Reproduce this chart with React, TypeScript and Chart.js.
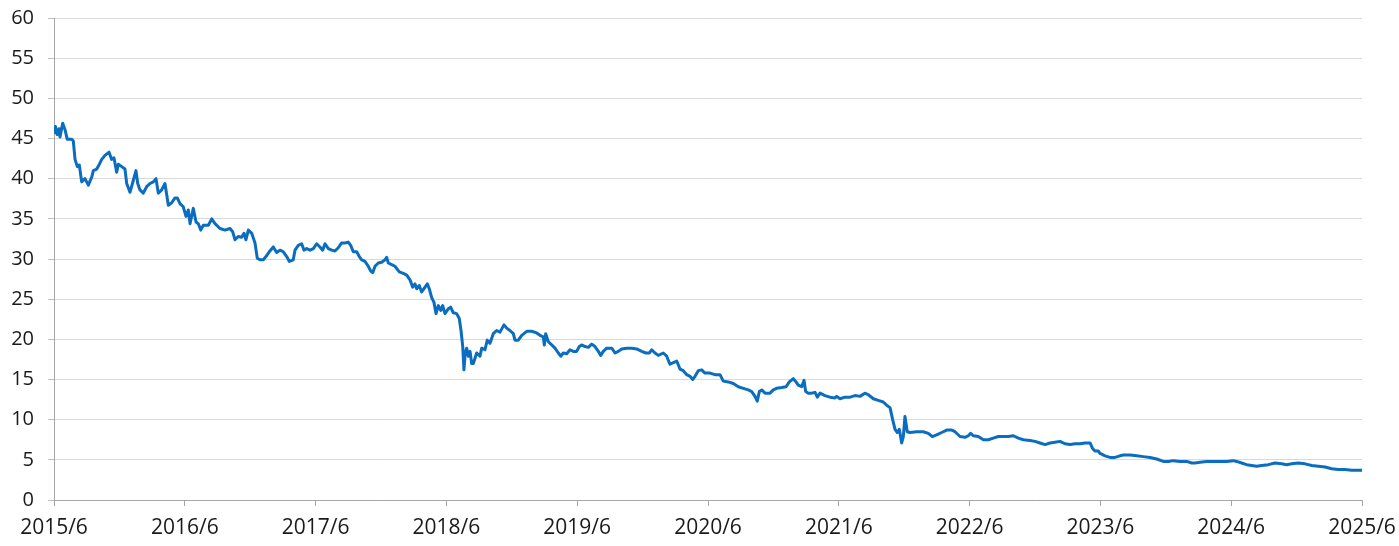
import React, { useEffect, useRef } from "react";
import { Chart, registerables } from "chart.js";

Chart.register(...registerables);

// x: months since 2015/6, y: value
const monthOffsets: number[] = [
  0, 0.14, 0.28, 0.46, 0.55, 0.8, 1.01, 1.22, 1.62, 1.77, 1.93, 2.14, 2.32, 2.54, 2.84, 3.15, 3.46, 3.61, 3.92, 4.16,
  4.38, 4.68, 5.05, 5.29, 5.5, 5.75, 5.9, 6.21, 6.51, 6.67, 6.97, 7.28, 7.52, 7.68, 7.89, 8.19, 8.5, 8.81, 9.11, 9.36,
  9.57, 9.88, 10.18, 10.49, 10.8, 11.1, 11.31, 11.56, 11.86, 12.11, 12.32, 12.48, 12.78, 13.03, 13.24, 13.46, 13.7, 14.16, 14.47, 14.77,
  15.23, 15.69, 16.15, 16.39, 16.61, 16.91, 17.22, 17.43, 17.61, 17.83, 18.14, 18.44, 18.65, 18.9, 19.2, 19.45, 19.75, 20.12, 20.43, 20.73,
  21.04, 21.35, 21.59, 21.95, 22.11, 22.41, 22.72, 22.94, 23.18, 23.49, 23.79, 24.1, 24.4, 24.65, 24.86, 25.17, 25.48, 25.78, 26.08, 26.39,
  26.7, 27.0, 27.22, 27.46, 27.77, 28.01, 28.23, 28.53, 28.83, 29.06, 29.24, 29.45, 29.75, 30.06, 30.37, 30.52, 30.67, 30.98, 31.28, 31.68,
  32.05, 32.36, 32.66, 32.91, 33.12, 33.28, 33.51, 33.73, 34.04, 34.25, 34.43, 34.65, 34.86, 35.05, 35.26, 35.48, 35.66, 35.87, 36.17, 36.39,
  36.63, 36.94, 37.18, 37.34, 37.5, 37.61, 37.73, 37.86, 38.01, 38.17, 38.32, 38.47, 38.78, 39.08, 39.24, 39.54, 39.75, 40.0, 40.3, 40.61,
  40.92, 41.28, 41.53, 41.83, 42.14, 42.29, 42.6, 42.91, 43.37, 43.83, 44.28, 44.59, 44.89, 44.98, 45.11, 45.35, 45.66, 45.96, 46.27, 46.49,
  46.72, 47.04, 47.34, 47.64, 47.95, 48.19, 48.41, 48.72, 49.02, 49.33, 49.63, 49.94, 50.16, 50.39, 50.71, 51.17, 51.47, 51.77, 52.08, 52.54,
  53.0, 53.46, 53.92, 54.31, 54.61, 54.83, 55.14, 55.44, 55.9, 56.21, 56.51, 56.82, 57.13, 57.43, 57.73, 58.05, 58.35, 58.6, 58.81, 59.11,
  59.42, 59.72, 60.18, 60.64, 61.1, 61.4, 61.86, 62.32, 62.78, 63.24, 63.7, 64.01, 64.31, 64.52, 64.71, 64.93, 65.23, 65.69, 65.99, 66.3,
  66.76, 67.16, 67.46, 67.83, 68.07, 68.28, 68.6, 68.81, 68.96, 69.2, 69.51, 69.82, 70.03, 70.28, 70.73, 71.19, 71.65, 71.81, 72.11, 72.57,
  73.03, 73.49, 73.94, 74.4, 74.71, 75.17, 75.62, 76.08, 76.39, 76.7, 76.94, 77.16, 77.37, 77.55, 77.77, 77.92, 78.07, 78.28, 78.53, 79.14,
  79.75, 80.21, 80.58, 80.98, 81.44, 81.9, 82.36, 82.66, 83.12, 83.58, 83.88, 84.1, 84.34, 84.8, 85.26, 85.72, 86.17, 86.63, 87.09, 87.55,
  88.01, 88.47, 88.93, 89.54, 90.0, 90.46, 90.92, 91.38, 91.83, 92.29, 92.75, 93.21, 93.67, 94.13, 94.59, 95.05, 95.29, 95.5, 95.81, 95.96,
  96.12, 96.42, 96.88, 97.34, 97.8, 98.1, 98.72, 99.33, 99.94, 100.55, 101.17, 101.77, 102.23, 102.69, 103.3, 103.92, 104.38, 104.68, 105.14, 105.75,
  106.36, 106.97, 107.59, 108.19, 108.5, 108.96, 109.42, 109.88, 110.34, 110.8, 111.41, 112.02, 112.63, 113.09, 113.55, 114.16, 114.77, 115.39, 115.99, 116.61,
  117.22, 117.83, 118.44, 119.05, 119.66, 120,
];

const values: number[] = [
  45.6, 46.5, 45.5, 46.2, 45.2, 46.9, 46.1, 44.9, 44.9, 44.7, 42.4, 41.5, 41.7, 39.6, 40.0, 39.2, 40.2, 41.0, 41.2, 41.8,
  42.4, 42.9, 43.3, 42.4, 42.6, 40.8, 41.8, 41.5, 41.2, 39.4, 38.3, 39.8, 41.0, 39.4, 38.6, 38.2, 39.0, 39.4, 39.6, 40.0,
  38.2, 38.6, 39.4, 36.7, 37.0, 37.6, 37.6, 36.9, 36.5, 35.3, 36.1, 34.4, 36.3, 34.6, 34.4, 33.6, 34.2, 34.2, 35.0, 34.4,
  33.8, 33.6, 33.8, 33.4, 32.4, 32.8, 32.7, 33.2, 32.4, 33.6, 33.2, 32.0, 30.1, 29.9, 29.9, 30.3, 30.9, 31.5, 30.8, 31.1,
  30.9, 30.3, 29.7, 29.9, 31.1, 31.7, 31.9, 31.1, 31.3, 31.1, 31.3, 31.9, 31.5, 31.1, 31.9, 31.3, 31.1, 31.0, 31.4, 32.0,
  32.0, 32.1, 31.7, 30.9, 30.9, 30.3, 29.9, 29.7, 29.1, 28.5, 28.3, 29.1, 29.5, 29.6, 29.9, 30.2, 29.5, 29.3, 29.1, 28.4,
  28.2, 28.0, 27.4, 26.5, 26.9, 26.3, 26.7, 25.9, 26.5, 26.9, 26.3, 25.2, 24.6, 23.2, 24.2, 23.6, 24.2, 23.2, 23.8, 24.0,
  23.3, 23.2, 22.6, 21.1, 19.1, 16.2, 18.3, 18.9, 17.9, 18.5, 17.0, 17.0, 18.3, 17.9, 18.9, 18.7, 19.9, 19.5, 20.7, 21.1,
  20.9, 21.8, 21.4, 21.1, 20.7, 19.9, 19.9, 20.5, 21.0, 21.0, 20.8, 20.5, 20.3, 19.3, 20.7, 19.7, 19.3, 18.9, 18.3, 17.9,
  18.3, 18.2, 18.7, 18.5, 18.5, 19.1, 19.3, 19.1, 19.0, 19.4, 19.1, 18.5, 18.0, 18.5, 18.9, 18.9, 18.3, 18.5, 18.8, 18.9,
  18.9, 18.8, 18.5, 18.3, 18.3, 18.7, 18.3, 18.0, 18.3, 17.9, 16.9, 17.1, 17.3, 16.3, 16.1, 15.6, 15.4, 15.0, 15.4, 16.1,
  16.2, 15.8, 15.8, 15.6, 15.6, 14.8, 14.7, 14.5, 14.1, 13.9, 13.7, 13.5, 12.9, 12.3, 13.5, 13.7, 13.3, 13.3, 13.7, 13.9,
  14.0, 14.1, 14.7, 15.1, 14.7, 14.3, 14.1, 14.9, 13.5, 13.3, 13.3, 13.4, 12.8, 13.3, 13.0, 12.8, 12.7, 12.9, 12.6, 12.8,
  12.8, 13.0, 12.9, 13.3, 13.1, 12.6, 12.4, 12.2, 11.8, 11.5, 10.0, 8.8, 8.4, 8.8, 7.1, 7.9, 10.4, 8.5, 8.4, 8.5,
  8.5, 8.3, 7.9, 8.1, 8.4, 8.7, 8.7, 8.5, 7.9, 7.8, 8.0, 8.3, 8.0, 7.9, 7.5, 7.5, 7.7, 7.9, 7.9, 7.9,
  8.0, 7.7, 7.5, 7.4, 7.3, 7.1, 6.9, 7.1, 7.2, 7.3, 7.0, 6.9, 7.0, 7.0, 7.1, 7.1, 6.4, 6.1, 6.1, 5.8,
  5.7, 5.5, 5.3, 5.3, 5.5, 5.6, 5.6, 5.5, 5.4, 5.3, 5.1, 4.8, 4.8, 4.9, 4.8, 4.8, 4.6, 4.6, 4.7, 4.8,
  4.8, 4.8, 4.8, 4.9, 4.8, 4.6, 4.4, 4.3, 4.2, 4.3, 4.4, 4.6, 4.5, 4.4, 4.5, 4.6, 4.5, 4.3, 4.2, 4.1,
  3.9, 3.8, 3.8, 3.7, 3.7, 3.7,
];

const startYear = 2015;
const tickMonths: number[] = [0, 12, 24, 36, 48, 60, 72, 84, 96, 108, 120];
const yMin = 0;
const yMax = 60;
const yStep = 5;

export default function App() {
  const canvasRef = useRef<HTMLCanvasElement | null>(null);

  useEffect(() => {
    const canvas = canvasRef.current;
    if (!canvas) return;
    const family = "'Open Sans', 'Noto Sans', sans-serif";
    const points = monthOffsets.map((m, i) => ({ x: m, y: values[i] }));
    const chart = new Chart(canvas, {
      type: "line",
      data: {
        datasets: [
          {
            data: points,
            borderColor: "#0A6DBF",
            borderWidth: 3,
            pointRadius: 0,
            tension: 0,
            borderJoinStyle: "round",
            fill: false,
          },
        ],
      },
      options: {
        animation: false,
        responsive: false,
        parsing: false as any,
        layout: { autoPadding: false, padding: { top: 18, right: 37, left: 0, bottom: 0 } },
        plugins: { legend: { display: false }, tooltip: { enabled: false } },
        scales: {
          x: {
            type: "linear",
            min: 0,
            max: 120,
            afterBuildTicks: (scale: any) => {
              scale.ticks = tickMonths.map((v) => ({ value: v }));
            },
            afterFit: (scale: any) => {
              scale.height = 46;
              scale.paddingLeft = 0;
              scale.paddingRight = 0;
            },
            ticks: {
              font: { family, size: 21 },
              color: "#1a1a1a",
              padding: 9,
              maxRotation: 0,
              autoSkip: false,
              callback: (v: any) => `${startYear + Number(v) / 12}/6`,
            },
            grid: {
              drawOnChartArea: false,
              drawTicks: true,
              tickLength: 6,
              tickColor: "#a6a6a6",
            },
            border: { color: "#a6a6a6", width: 1 },
          },
          y: {
            min: yMin,
            max: yMax,
            afterFit: (scale: any) => {
              scale.width = 54;
              scale.paddingTop = 0;
              scale.paddingBottom = 0;
            },
            ticks: {
              stepSize: yStep,
              font: { family, size: 20 },
              color: "#1a1a1a",
              padding: 14,
            },
            grid: {
              color: "#d9d9d9",
              tickColor: "#bfbfbf",
              tickLength: 6,
              lineWidth: 1,
            },
            border: { color: "#a6a6a6", width: 1 },
          },
        },
      },
    });
    return () => chart.destroy();
  }, []);

  return (
    <div style={{ position: "fixed", left: 0, top: 0, width: 1399, height: 546, background: "#fff" }}>
      <canvas ref={canvasRef} width={1399} height={546} style={{ display: "block" }} />
    </div>
  );
}
